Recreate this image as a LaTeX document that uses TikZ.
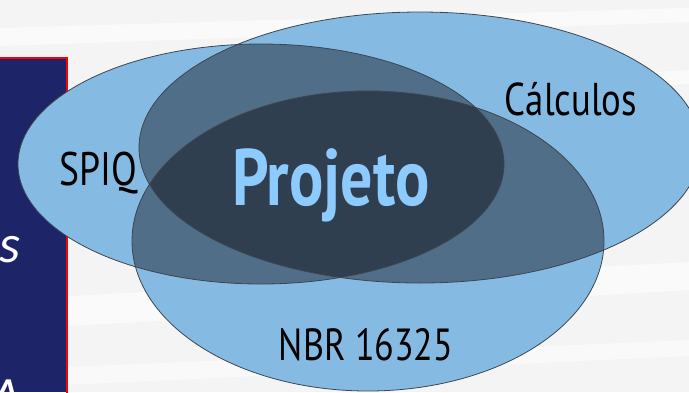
\documentclass[tikz,border=0pt]{standalone}
\usepackage{fontspec}
\newfontfamily\labelfont[FakeStretch=0.8]{PT Sans}
\newfontfamily\panelfont{Carlito}

\definecolor{paper}{HTML}{F4F4F4}
\definecolor{navy}{HTML}{1E2468}
\definecolor{oneset}{HTML}{85BBE3}
\definecolor{twoset}{HTML}{506E87}
\definecolor{threeset}{HTML}{2F3F4F}
\definecolor{rim}{HTML}{3C4650}
\definecolor{titleblue}{HTML}{8DCBFF}

\tikzset{
  setlabel/.style={anchor=base, inner sep=0pt, text=black,
    font=\labelfont\fontsize{47}{50}\selectfont},
  maintitle/.style={anchor=base, inner sep=0pt, text=titleblue,
    font=\labelfont\bfseries\fontsize{80}{84}\selectfont},
  paneltext/.style={inner sep=0pt, text=white,
    font=\panelfont\itshape\fontsize{54}{58}\selectfont},
  rimline/.style={draw=rim, line width=0.8pt}
}

\begin{document}
\begin{tikzpicture}[x=1pt,y=-1pt]
	\useasboundingbox (0,0) rectangle (689,392);
	\clip (0,0) rectangle (689,392);

	% background with light streaks
	\fill[paper] (0,0) rectangle (689,392);
	\fill[white, opacity=0.6] (0,28) -- (689,8) -- (689,22) -- (0,46) -- cycle;
	\fill[white, opacity=0.6] (0,108) -- (689,70) -- (689,84) -- (0,126) -- cycle;
	\fill[white, opacity=0.6] (0,300) -- (689,262) -- (689,290) -- (0,330) -- cycle;
	\fill[white, opacity=0.5] (0,370) -- (689,340) -- (689,356) -- (0,388) -- cycle;

	% side panel
	\fill[navy] (0,58) rectangle (67,392);
	\draw[red, line width=1.5pt] (-2,58) -- (67,58) -- (67,393);
	\node[paneltext, anchor=base east] (tailS) at (21,262) {s};
	\node[paneltext, anchor=base east] (tailRA) at (22,414) {RA};

	% the three sets
	\fill[oneset] (261,164) ellipse [x radius=243, y radius=120];
	\fill[oneset] (420,147.5) ellipse [x radius=281, y radius=135.5];
	\fill[oneset] (368,241) ellipse [x radius=236, y radius=150];

	% pairwise overlaps
	\begin{scope}
		\clip (261,164) ellipse [x radius=243, y radius=120];
		\fill[twoset] (420,147.5) ellipse [x radius=281, y radius=135.5];
		\fill[twoset] (368,241) ellipse [x radius=236, y radius=150];
	\end{scope}
	\begin{scope}
		\clip (420,147.5) ellipse [x radius=281, y radius=135.5];
		\fill[twoset] (368,241) ellipse [x radius=236, y radius=150];
	\end{scope}

	% common part
	\begin{scope}
		\clip (261,164) ellipse [x radius=243, y radius=120];
		\clip (420,147.5) ellipse [x radius=281, y radius=135.5];
		\fill[threeset] (368,241) ellipse [x radius=236, y radius=150];
	\end{scope}

	% outlines
	\draw[rimline] (261,164) ellipse [x radius=243, y radius=120];
	\draw[rimline] (420,147.5) ellipse [x radius=281, y radius=135.5];
	\draw[rimline] (368,241) ellipse [x radius=236, y radius=150];

	\node[setlabel] (spiq) at (98,185) {SPIQ};
	\node[setlabel, font=\labelfont\fontsize{46}{50}\selectfont] (calc) at (571,115) {Cálculos};
	\node[setlabel, font=\labelfont\fontsize{45}{50}\selectfont] (nbr) at (366,360) {NBR 16325};
	\node[maintitle] (projeto) at (331,205) {Projeto};
\end{tikzpicture}
\end{document}
